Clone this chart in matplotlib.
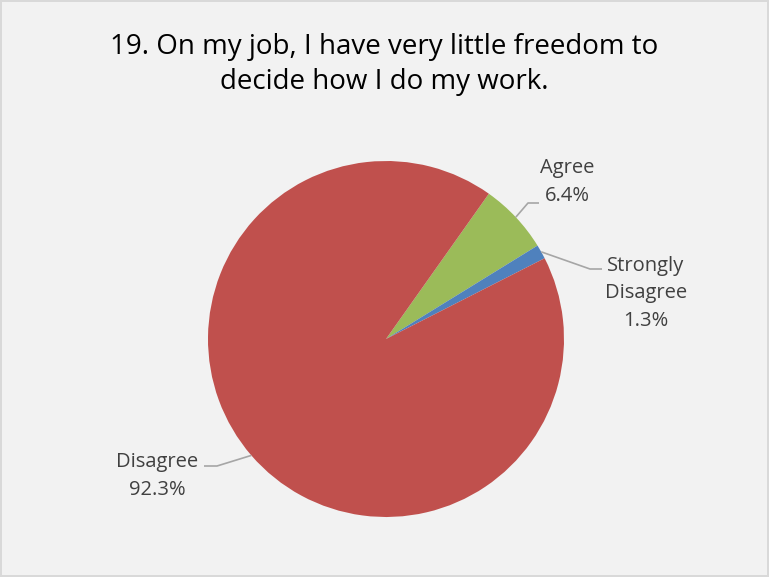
import numpy as np
import matplotlib
matplotlib.use("Agg")
import matplotlib.pyplot as plt

plt.rcParams['font.family'] = ['Open Sans', 'DejaVu Sans']

# Survey responses (percent)
categories = ["Agree", "Strongly\nDisagree", "Disagree"]
values = [6.4, 1.3, 92.3]
colors = ["#9BBB59", "#4F81BD", "#C0504D"]

W, H = 769, 577
fig = plt.figure(figsize=(W / 100, H / 100), dpi=100, facecolor="#F2F2F2",
                 edgecolor="#D9D9D9", linewidth=1.5)
ax = fig.add_axes([0, 0, 1, 1])

cx, cy, r = 386, H - 339, 178
wedges, _ = ax.pie(values, colors=colors, startangle=54.7, counterclock=False,
                   center=(cx, cy), radius=r, frame=True)
ax.set_xlim(0, W)
ax.set_ylim(0, H)
ax.set_aspect("equal")
ax.axis("off")

fig.text(0.5, 1 - 47 / H, "19. On my job, I have very little freedom to",
         ha="center", va="center", fontsize=20, color="#000000")
fig.text(0.5, 1 - 82 / H, "decide how I do my work.",
         ha="center", va="center", fontsize=20, color="#000000")

# label text position, elbow point, line end (image pixel coords)
layout = [
    ((567, 182), (528, 203), (539, 203)),
    ((646, 293), (590, 269), (602, 269)),
    ((157, 476), (217, 466), (204, 466)),
]

for w, lab, v, (tpos, elbow, end) in zip(wedges, categories, values, layout):
    mid = np.deg2rad((w.theta1 + w.theta2) / 2)
    x0, y0 = cx + r * np.cos(mid), cy + r * np.sin(mid)
    ax.plot([x0, elbow[0], end[0]], [y0, H - elbow[1], H - end[1]],
            color="#A6A6A6", lw=1.2, solid_capstyle="butt")
    ax.text(tpos[0], H - tpos[1], f"{lab}\n{v:.1f}%", ha="center", va="center",
            fontsize=14.5, color="#404040", linespacing=1.5)

fig.savefig("out.png", dpi=100, facecolor=fig.get_facecolor(),
            edgecolor=fig.get_edgecolor())
